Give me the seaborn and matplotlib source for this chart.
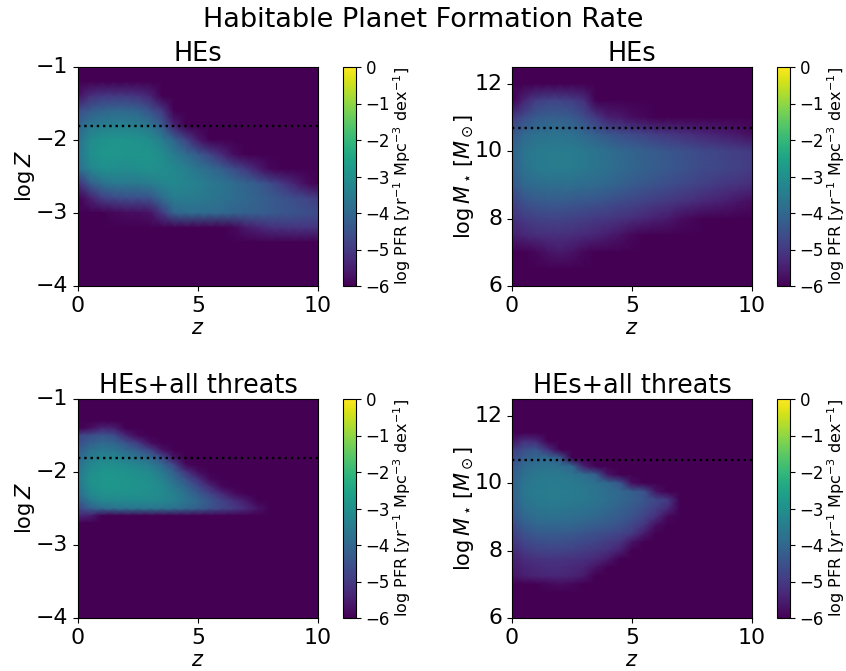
import numpy as np
import pandas as pd
import matplotlib
matplotlib.use("Agg")
import matplotlib.pyplot as plt
import seaborn as sns

BG = -6

# grid of redshift columns, 0.5 apart
z_vals = np.arange(0, 10.5, 0.5)

# log Z, HEs (rows -1.0 to -4.0 in steps of 0.2, top down)
logz_y = np.arange(-1, -4.1, -0.2)
hes_z_first = 2  # first row below is -1.4
hes_z = [
    [-5.7, -5.2, -5.0, -5.0, -5.0, -5.1, -5.4, -6, -6, -6, -6, -6, -6, -6, -6, -6, -6, -6, -6, -6, -6],
    [-4.6, -4.3, -4.1, -4.0, -4.0, -4.1, -4.5, -5.0, -6, -6, -6, -6, -6, -6, -6, -6, -6, -6, -6, -6, -6],
    [-4.1, -3.6, -3.45, -3.4, -3.4, -3.45, -3.7, -4.3, -5.4, -6, -6, -6, -6, -6, -6, -6, -6, -6, -6, -6, -6],
    [-3.8, -3.15, -2.95, -2.9, -2.9, -2.95, -3.1, -3.5, -4.1, -4.8, -5.6, -6, -6, -6, -6, -6, -6, -6, -6, -6, -6],
    [-3.7, -3.05, -2.85, -2.85, -2.9, -2.85, -2.9, -3.1, -3.5, -3.9, -4.3, -4.8, -5.3, -5.8, -6, -6, -6, -6, -6, -6, -6],
    [-3.9, -3.3, -3.05, -3.05, -3.1, -3.05, -3.0, -3.05, -3.2, -3.4, -3.7, -3.9, -4.2, -4.6, -5.0, -5.5, -5.9, -6, -6, -6, -6],
    [-5.2, -4.3, -3.8, -3.6, -3.6, -3.6, -3.5, -3.3, -3.2, -3.3, -3.4, -3.6, -3.7, -3.9, -4.1, -4.3, -4.6, -5.0, -5.4, -5.8, -6],
    [-6, -5.5, -4.9, -4.7, -4.6, -4.6, -4.5, -3.9, -3.5, -3.5, -3.55, -3.65, -3.75, -3.9, -4.0, -4.15, -4.3, -4.45, -4.6, -4.75, -4.95],
    [-6, -6, -6, -5.9, -5.8, -5.8, -5.7, -5.0, -4.1, -3.9, -3.9, -3.95, -4.0, -4.1, -4.15, -4.2, -4.3, -4.4, -4.45, -4.55, -4.6],
    [-6, -6, -6, -6, -6, -6, -6, -6, -6, -6, -6, -6, -6, -5.9, -5.6, -5.4, -5.2, -5.15, -5.1, -5.1, -5.1],
    [-6, -6, -6, -6, -6, -6, -6, -6, -6, -6, -6, -6, -6, -6, -6, -6, -6, -6, -6, -6, -6],
]

# log M, HEs (rows 12.5 to 6.0 in steps of 0.5)
logm_y = np.arange(12.5, 5.9, -0.5)
hes_m_first = 2  # first row below is 11.5
hes_m = [
    [-6, -5.4, -4.9, -4.8, -4.8, -4.9, -5.2, -6, -6, -6, -6, -6, -6, -6, -6, -6, -6, -6, -6, -6, -6],
    [-5.0, -4.6, -4.3, -4.2, -4.2, -4.3, -4.6, -5.0, -5.5, -5.6, -5.8, -5.9, -6, -6, -6, -6, -6, -6, -6, -6, -6],
    [-4.4, -4.0, -3.8, -3.75, -3.75, -3.8, -4.0, -4.2, -4.4, -4.55, -4.7, -4.8, -4.95, -5.05, -5.15, -5.25, -5.35, -5.45, -5.55, -5.65, -5.8],
    [-4.1, -3.7, -3.55, -3.5, -3.5, -3.5, -3.6, -3.7, -3.85, -4.0, -4.1, -4.2, -4.3, -4.4, -4.5, -4.6, -4.7, -4.75, -4.85, -4.9, -5.0],
    [-4.2, -3.75, -3.55, -3.5, -3.5, -3.5, -3.6, -3.7, -3.8, -3.95, -4.05, -4.15, -4.25, -4.35, -4.45, -4.55, -4.65, -4.7, -4.8, -4.85, -4.95],
    [-4.4, -4.0, -3.9, -3.85, -3.85, -3.85, -3.9, -3.95, -4.05, -4.15, -4.3, -4.4, -4.5, -4.6, -4.7, -4.8, -4.9, -5.0, -5.1, -5.15, -5.25],
    [-4.85, -4.5, -4.35, -4.3, -4.3, -4.35, -4.4, -4.45, -4.55, -4.65, -4.75, -4.85, -4.95, -5.05, -5.15, -5.25, -5.35, -5.45, -5.55, -5.7, -5.8],
    [-5.2, -4.95, -4.85, -4.8, -4.8, -4.85, -4.9, -5.0, -5.05, -5.15, -5.25, -5.35, -5.5, -5.6, -5.8, -5.9, -6, -6, -6, -6, -6],
    [-5.5, -5.35, -5.25, -5.2, -5.2, -5.25, -5.3, -5.4, -5.55, -5.7, -5.9, -6, -6, -6, -6, -6, -6, -6, -6, -6, -6],
    [-6, -6, -5.9, -5.7, -5.6, -5.7, -5.9, -6, -6, -6, -6, -6, -6, -6, -6, -6, -6, -6, -6, -6, -6],
]

# log Z, all threats (rows -1.0 to -4.0 in steps of 0.1, z up to 8 only)
logz_fine_y = np.arange(-1, -4.05, -0.1)
threat_z_first = 4  # first row below is -1.4
threat_z = [
    [-6, -5.8, -5.4, -5.5, -6, -6, -6, -6, -6, -6, -6, -6, -6, -6, -6, -6, -6],
    [-4.8, -4.6, -4.4, -4.6, -5.4, -5.9, -6, -6, -6, -6, -6, -6, -6, -6, -6, -6, -6],
    [-4.6, -4.2, -4.0, -4.1, -4.5, -5.0, -5.8, -6, -6, -6, -6, -6, -6, -6, -6, -6, -6],
    [-4.3, -3.8, -3.6, -3.7, -4.0, -4.3, -4.8, -5.7, -6, -6, -6, -6, -6, -6, -6, -6, -6],
    [-4.0, -3.5, -3.3, -3.3, -3.5, -3.7, -4.0, -4.6, -5.7, -6, -6, -6, -6, -6, -6, -6, -6],
    [-3.8, -3.25, -3.05, -3.05, -3.15, -3.3, -3.5, -4.0, -4.8, -5.9, -6, -6, -6, -6, -6, -6, -6],
    [-3.6, -3.1, -2.9, -2.9, -2.95, -3.05, -3.2, -3.6, -4.2, -5.1, -5.8, -6, -6, -6, -6, -6, -6],
    [-3.6, -3.0, -2.85, -2.85, -2.9, -2.95, -3.05, -3.35, -3.9, -4.5, -5.2, -5.9, -6, -6, -6, -6, -6],
    [-3.7, -3.05, -2.85, -2.85, -2.9, -2.95, -3.0, -3.2, -3.6, -4.1, -4.7, -5.3, -5.9, -6, -6, -6, -6],
    [-3.9, -3.2, -3.0, -3.0, -3.0, -3.0, -3.05, -3.15, -3.4, -3.8, -4.3, -4.8, -5.3, -5.8, -6, -6, -6],
    [-4.3, -3.6, -3.25, -3.2, -3.2, -3.2, -3.2, -3.25, -3.4, -3.7, -4.0, -4.4, -4.8, -5.2, -5.6, -6, -6],
    [-4.8, -4.2, -3.9, -3.8, -3.7, -3.7, -3.7, -3.7, -3.8, -4.0, -4.2, -4.5, -4.8, -5.0, -5.3, -5.7, -6],
    [-5.3, -5.5, -6, -6, -6, -6, -6, -6, -6, -6, -6, -6, -6, -6, -6, -6, -6],
]

# log M, all threats (rows 12.5 to 6.0 in steps of 0.25, z up to 7.5 only)
logm_fine_y = np.arange(12.5, 5.9, -0.25)
threat_m_first = 4  # first row below is 11.5
threat_m = [
    [-6, -6, -6, -6, -6, -6, -6, -6, -6, -6, -6, -6, -6, -6, -6, -6],
    [-5.7, -5.2, -5.3, -6, -6, -6, -6, -6, -6, -6, -6, -6, -6, -6, -6, -6],
    [-5.0, -4.6, -4.4, -5.2, -6, -6, -6, -6, -6, -6, -6, -6, -6, -6, -6, -6],
    [-4.7, -4.2, -4.0, -3.95, -4.3, -6, -6, -6, -6, -6, -6, -6, -6, -6, -6, -6],
    [-4.4, -3.95, -3.8, -3.75, -3.8, -4.0, -5.5, -6, -6, -6, -6, -6, -6, -6, -6, -6],
    [-4.25, -3.8, -3.6, -3.55, -3.6, -3.7, -3.85, -4.2, -5.7, -6, -6, -6, -6, -6, -6, -6],
    [-4.15, -3.7, -3.55, -3.5, -3.5, -3.55, -3.65, -3.8, -3.95, -4.4, -5.8, -6, -6, -6, -6, -6],
    [-4.15, -3.65, -3.5, -3.5, -3.5, -3.5, -3.6, -3.7, -3.85, -4.0, -4.2, -4.5, -5.7, -6, -6, -6],
    [-4.2, -3.7, -3.55, -3.5, -3.5, -3.55, -3.6, -3.7, -3.85, -4.0, -4.2, -4.4, -4.7, -5.0, -6, -6],
    [-4.3, -3.85, -3.7, -3.65, -3.65, -3.7, -3.75, -3.85, -4.0, -4.15, -4.35, -4.6, -4.9, -5.3, -6, -6],
    [-4.45, -4.0, -3.85, -3.8, -3.8, -3.85, -3.9, -4.0, -4.15, -4.3, -4.5, -4.8, -5.2, -5.9, -6, -6],
    [-4.65, -4.25, -4.05, -4.05, -4.05, -4.05, -4.15, -4.25, -4.35, -4.5, -4.75, -5.1, -5.8, -6, -6, -6],
    [-4.9, -4.5, -4.35, -4.3, -4.3, -4.35, -4.45, -4.55, -4.65, -4.8, -5.0, -5.6, -6, -6, -6, -6],
    [-5.1, -4.75, -4.6, -4.55, -4.55, -4.6, -4.7, -4.8, -4.95, -5.1, -5.7, -6, -6, -6, -6, -6],
    [-5.3, -5.0, -4.85, -4.8, -4.8, -4.85, -4.95, -5.05, -5.2, -5.5, -6, -6, -6, -6, -6, -6],
    [-5.5, -5.25, -5.15, -5.1, -5.1, -5.15, -5.2, -5.3, -5.6, -6, -6, -6, -6, -6, -6, -6],
    [-5.6, -5.4, -5.3, -5.25, -5.25, -5.3, -5.4, -5.7, -6, -6, -6, -6, -6, -6, -6, -6],
    [-5.7, -5.5, -5.4, -5.35, -5.35, -5.4, -5.6, -6, -6, -6, -6, -6, -6, -6, -6, -6],
    [-6, -6, -6, -5.9, -5.8, -5.9, -6, -6, -6, -6, -6, -6, -6, -6, -6, -6],
]

titles = ["HEs", "HEs", "HEs+all threats", "HEs+all threats"]
z_ticks = [0, 5, 10]
logz_ticks = [-1, -2, -3, -4]
logm_ticks = [6, 8, 10, 12]
cbar_ticks = [0, -1, -2, -3, -4, -5, -6]
solar_logz = -1.81
gal_logm = 10.69


def make_table(block, first_row, y_vals):
    # everything outside the block sits at the colour bar floor
    table = np.full((len(y_vals), len(z_vals)), float(BG))
    block = np.array(block, dtype=float)
    table[first_row:first_row + block.shape[0], :block.shape[1]] = block
    return pd.DataFrame(table, index=y_vals, columns=z_vals)


W, H = 846, 671
fig = plt.figure(figsize=(W / 100, H / 100), dpi=100)
lefts = [78, 512]
tops = [67, 399]
panels = [
    (0, 0, make_table(hes_z, hes_z_first, logz_y), r"$\log Z$", logz_ticks, solar_logz, -0.5),
    (1, 0, make_table(hes_m, hes_m_first, logm_y), r"$\log M_\star\,[M_\odot]$", logm_ticks, gal_logm, -1),
    (0, 1, make_table(threat_z, threat_z_first, logz_fine_y), r"$\log Z$", logz_ticks, solar_logz, -0.5),
    (1, 1, make_table(threat_m, threat_m_first, logm_fine_y), r"$\log M_\star\,[M_\odot]$", logm_ticks, gal_logm, -1),
]

for (col, row, table, ylabel, yticks, hline, lpad), title in zip(panels, titles):
    ax = fig.add_axes([lefts[col] / W, 1 - (tops[row] + 219) / H, 240 / W, 219 / H])
    cax = fig.add_axes([(lefts[col] + 265) / W, 1 - (tops[row] + 219) / H, 13 / W, 219 / H])
    sns.heatmap(table, ax=ax, cbar_ax=cax, cmap="viridis", vmin=-6, vmax=0,
                shading="gouraud", cbar_kws={"ticks": cbar_ticks})

    # gouraud puts values on the grid nodes, so translate data units to node index
    y0 = table.index[0]
    dy = table.index[1] - table.index[0]
    dz = z_vals[1] - z_vals[0]
    ax.set_xlim(0, len(z_vals) - 1)
    ax.set_ylim(len(table.index) - 1, 0)
    ax.set_xticks([t / dz for t in z_ticks])
    ax.set_xticklabels([str(t) for t in z_ticks], rotation=0)
    ax.set_yticks([(t - y0) / dy for t in yticks])
    ax.set_yticklabels([str(t).replace("-", "\u2212") for t in yticks], rotation=0)
    ax.tick_params(labelsize=15.8, length=3.5, width=0.8)
    ax.axhline((hline - y0) / dy, color="k", ls=":", lw=1.7)
    ax.set_xlabel(r"$z$", fontsize=15, labelpad=2)
    ax.set_ylabel(ylabel, fontsize=15, labelpad=lpad)
    ax.set_title(title, fontsize=18.4, pad=4)
    for s in ax.spines.values():
        s.set_visible(True)
        s.set_linewidth(0.8)

    cax.tick_params(labelsize=12, length=3.5, width=0.8)
    cax.set_ylabel(r"$\log\,\mathrm{PFR}\ [\mathrm{yr}^{-1}\ \mathrm{Mpc}^{-3}\ \mathrm{dex}^{-1}]$",
                   fontsize=11.5, labelpad=1)
    cb = ax.collections[0].colorbar
    cb.outline.set_visible(True)
    cb.outline.set_linewidth(0.8)

fig.suptitle("Habitable Planet Formation Rate", fontsize=19.5, x=423 / W, y=1 - 20 / H, va="center")
plt.savefig("out.png", dpi=100)
